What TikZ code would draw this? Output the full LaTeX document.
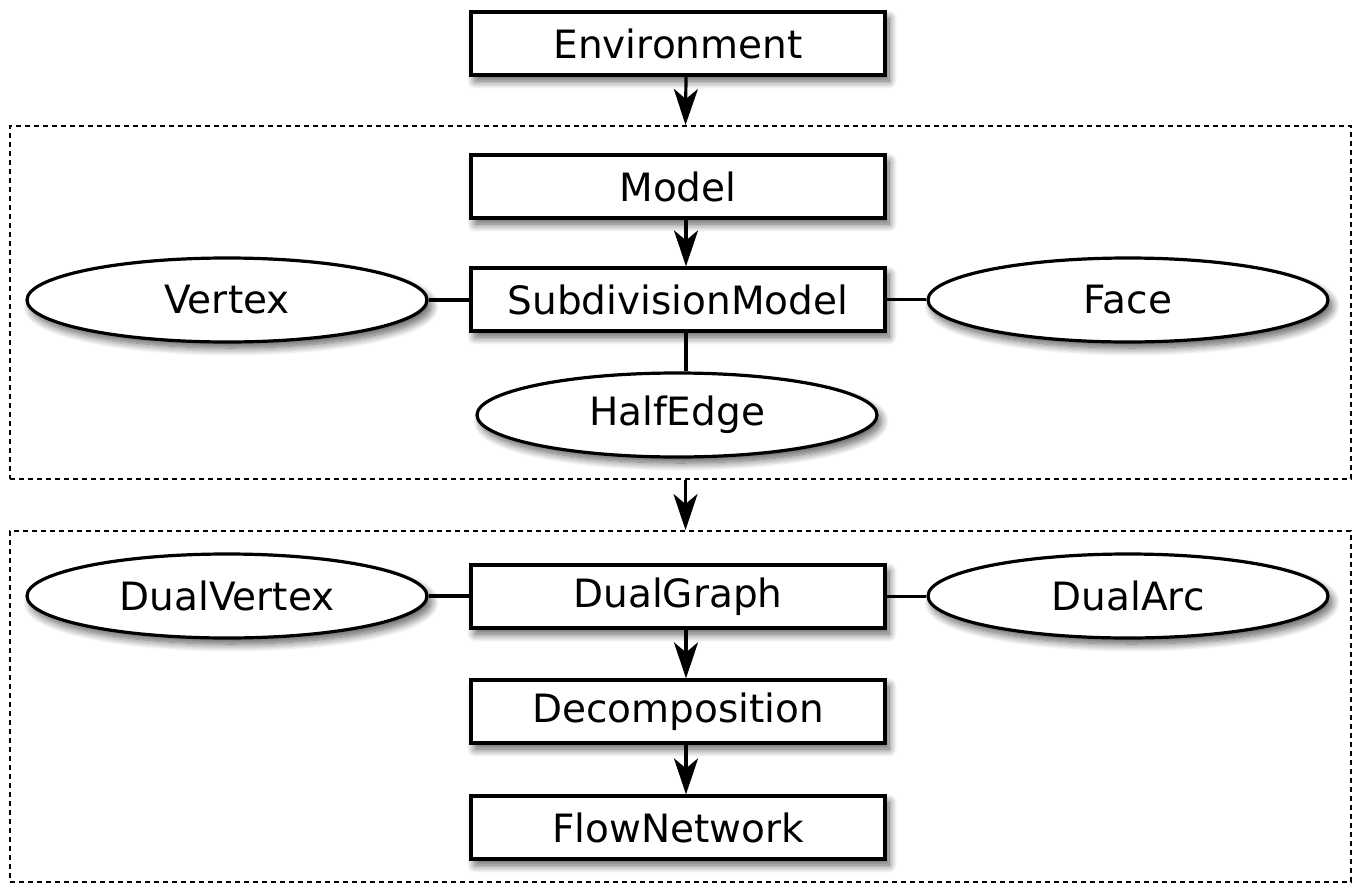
\documentclass[tikz,border=0pt]{standalone}
\usepackage{fontspec}
\setmainfont{DejaVu Sans}
\usetikzlibrary{arrows.meta,shadows.blur,shapes.geometric}
\begin{document}
\begin{tikzpicture}[x=0.5pt,y=-0.5pt,
  shd/.style={blur shadow={shadow xshift=2pt,shadow yshift=-3pt,shadow blur radius=4pt,shadow blur steps=12,shadow opacity=65}},
  cls/.style={draw,line width=1.6pt,fill=white,minimum width=207pt,minimum height=31.5pt,inner sep=0pt,shd,font=\fontsize{19.5}{23}\selectfont},
  obj/.style={ellipse,draw,line width=1.6pt,fill=white,minimum width=200pt,minimum height=42pt,inner sep=0pt,shd,font=\fontsize{19.5}{23}\selectfont},
  grp/.style={draw,line width=1pt,dash pattern=on 2.5pt off 2pt},
  arr/.style={line width=1.6pt,-{Stealth[length=18pt,width=12pt,inset=5pt]}},
  lnk/.style={line width=1.6pt}]
\useasboundingbox (0,0) rectangle (1355,884);
% groups
\node[grp,minimum width=670.5pt,minimum height=176.5pt,inner sep=0pt] (g1) at (680.5,302.5) {};
\node[grp,minimum width=670.5pt,minimum height=175.5pt,inner sep=0pt] (g2) at (680.5,706.5) {};
% class boxes
\node[cls] (env) at (678,43.5) {Environment};
\node[cls] (model) at (678,186.5) {Model};
\node[cls] (sub) at (678,299.5) {SubdivisionModel};
\node[cls] (dg) at (678,596.5) {DualGraph};
\node[cls] (dec) at (678,711.5) {Decomposition};
\node[cls] (flow) at (678,827.5) {FlowNetwork};
% ellipses
\node[obj] (vtx) at (227,300) {Vertex};
\node[obj] (face) at (1128,300) {Face};
\node[obj] (he) at (677,415) {HalfEdge};
\node[obj] (dv) at (227,596) {DualVertex};
\node[obj] (da) at (1128,596) {DualArc};
% connectors
\draw[arr] ([xshift=4pt]env.south) -- ([xshift=2.5pt]g1.north);
\draw[arr] ([xshift=4pt]model.south) -- ([xshift=4pt]sub.north);
\draw[lnk] ([xshift=4pt]sub.south) -- ([xshift=4.5pt]he.north);
\draw[lnk] (vtx.east) -- (vtx.east -| sub.west);
\draw[lnk] (sub.east) -- (sub.east -| face.west);
\draw[arr] ([xshift=2.5pt]g1.south) -- ([xshift=2.5pt]g2.north);
\draw[lnk] (dv.east) -- (dv.east -| dg.west);
\draw[lnk] (dg.east) -- (dg.east -| da.west);
\draw[arr] ([xshift=4pt]dg.south) -- ([xshift=4pt]dec.north);
\draw[arr] ([xshift=4pt]dec.south) -- ([xshift=4pt]flow.north);
\end{tikzpicture}
\end{document}
